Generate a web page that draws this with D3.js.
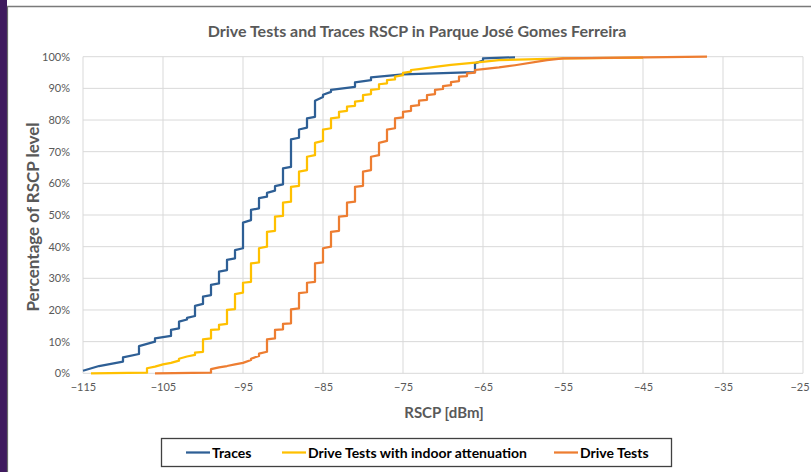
<!DOCTYPE html>
<html>
<head>
<meta charset="utf-8">
<script src="https://cdn.jsdelivr.net/npm/d3@7"></script>
<style>
  html, body { margin: 0; padding: 0; background: #ffffff; }
  svg { display: block; font-family: Lato, "Open Sans", sans-serif; }
</style>
</head>
<body>
<svg id="chart" width="811" height="472"></svg>
<script>
// Cumulative share of samples (%) at or below each RSCP level (dBm)
const tracesX = [-115, -113, -111, -110, -110, -108, -108, -106, -106, -104, -104, -103, -103, -102, -102, -101, -101,
  -100, -100, -99, -99, -98, -98, -97, -97, -96, -96, -95, -95, -94, -94, -93, -93, -92, -92, -91, -91, -90, -90,
  -89, -89, -88, -88, -87, -87, -86, -86, -85, -85, -84, -84, -81, -81, -79, -79, -75, -66, -66, -65, -65, -61];
const tracesY = [0.8, 2.3, 3.2, 3.7, 5.0, 6.1, 8.6, 10.0, 11.0, 11.8, 13.7, 14.2, 16.3, 17.0, 17.5, 18.1, 21.3,
  21.9, 24.2, 24.7, 27.9, 28.4, 32.1, 32.6, 35.8, 36.3, 38.9, 39.5, 47.6, 48.4, 51.6, 52.1, 55.3, 55.8, 57.0, 57.7, 59.1, 59.7, 64.7,
  65.2, 73.9, 74.4, 77.0, 77.6, 80.5, 81.0, 86.1, 87.3, 88.0, 88.9, 89.5, 90.5, 91.9, 92.6, 93.5, 94.4, 95.1, 97.9, 98.8, 99.5, 99.8];

const indoorX = [-114, -107, -107, -106, -105, -104, -103, -103, -102, -101, -101, -100, -100, -99, -99, -98, -98,
  -97, -97, -96, -96, -95, -95, -94, -94, -93, -93, -92, -92, -91, -91, -90, -90, -89, -89, -88, -88, -87, -87,
  -86, -86, -85, -85, -84, -84, -83, -83, -82, -82, -81, -81, -80, -80, -79, -79, -78, -78, -77, -77, -76, -76,
  -75, -75, -74, -74, -73, -71, -69, -66, -63, -57, -55, -45];
const indoorY = [0.0, 0.2, 1.6, 2.1, 2.8, 3.3, 4.0, 4.6, 5.3, 5.8, 6.5, 6.8, 10.7, 11.0, 13.7, 13.9, 15.3,
  15.6, 20.0, 20.3, 25.0, 25.5, 28.6, 28.9, 34.7, 35.0, 39.5, 40.0, 44.7, 45.0, 49.5, 49.7, 53.9, 54.2, 58.9, 59.2, 63.7, 64.2, 68.4,
  68.9, 72.8, 73.4, 77.0, 77.4, 80.5, 80.8, 82.6, 82.9, 84.2, 84.5, 85.8, 86.1, 87.9, 88.2, 89.5, 89.8, 91.3, 91.6, 92.6, 92.8, 93.7,
  94.2, 94.9, 95.3, 95.8, 96.1, 96.8, 97.4, 98.1, 98.9, 99.3, 99.5, 99.7];

const driveX = [-106, -99, -99, -98, -97, -96, -95, -94, -94, -93, -93, -92, -92, -91, -91, -90, -90,
  -89, -89, -88, -88, -87, -87, -86, -86, -85, -85, -84, -84, -83, -83, -82, -82, -81, -81, -80, -80, -79, -79,
  -78, -78, -77, -77, -76, -76, -75, -75, -74, -74, -73, -73, -72, -72, -71, -71, -70, -70, -69, -69, -68, -68,
  -67, -67, -66, -66, -65, -63, -61, -57, -55, -37];
const driveY = [0.0, 0.2, 1.3, 1.9, 2.3, 2.8, 3.3, 4.2, 4.6, 5.5, 6.2, 6.8, 10.7, 11.0, 13.7, 13.9, 15.6,
  15.8, 20.2, 20.5, 25.3, 25.6, 28.6, 28.9, 34.7, 35.0, 39.5, 40.0, 44.7, 45.0, 49.5, 49.7, 53.9, 54.2, 58.9, 59.2, 63.7, 64.2, 68.4,
  68.9, 72.8, 73.4, 77.0, 77.4, 80.5, 80.8, 82.6, 82.9, 84.4, 84.7, 86.1, 86.4, 87.9, 88.2, 89.5, 89.8, 90.7, 91.0, 92.0, 92.3, 93.7,
  93.9, 94.7, 95.0, 95.8, 96.1, 96.6, 97.3, 98.9, 99.5, 100.0];

const seriesNames = ["Traces", "Drive Tests with indoor attenuation", "Drive Tests"];
const seriesColors = ["#2e5f95", "#ffc000", "#ed7d31"];
const xTicks = [-115, -105, -95, -85, -75, -65, -55, -45, -35, -25];
const yTicks = [0, 10, 20, 30, 40, 50, 60, 70, 80, 90, 100];

const chartTitle = "Drive Tests and Traces RSCP in Parque José Gomes Ferreira";
const xTitle = "RSCP [dBm]";
const yTitle = "Percentage of RSCP level";

const series = [
  { name: seriesNames[0], color: seriesColors[0], pts: d3.zip(tracesX, tracesY) },
  { name: seriesNames[1], color: seriesColors[1], pts: d3.zip(indoorX, indoorY) },
  { name: seriesNames[2], color: seriesColors[2], pts: d3.zip(driveX, driveY) }
];

const svg = d3.select("#chart");
const W = 811, H = 472;
const plot = { left: 83, right: 803, top: 56.7, bottom: 373.3 };

svg.append("rect").attr("width", W).attr("height", H).attr("fill", "#ffffff");

// Window frame: purple strip on the left, thin grey edges
svg.append("rect").attr("x", 0).attr("y", 0).attr("width", 7).attr("height", H).attr("fill", "#3f1a5e");
svg.append("line").attr("x1", 7.5).attr("x2", 7.5).attr("y1", 6).attr("y2", H)
  .attr("stroke", "#6b6b6b").attr("stroke-width", 1.2);
svg.append("line").attr("x1", 7).attr("x2", W).attr("y1", 6.5).attr("y2", 6.5)
  .attr("stroke", "#7a7a7a").attr("stroke-width", 1.6);

const x = d3.scaleLinear().domain([-115, -25]).range([plot.left, plot.right]);
const y = d3.scaleLinear().domain([0, 100]).range([plot.bottom, plot.top]);

// Gridlines
const grid = svg.append("g").attr("stroke", "#d9d9d9").attr("stroke-width", 1);
grid.selectAll("line.v").data(xTicks).join("line")
  .attr("x1", d => x(d)).attr("x2", d => x(d))
  .attr("y1", plot.top).attr("y2", plot.bottom);
grid.selectAll("line.h").data(yTicks).join("line")
  .attr("x1", plot.left).attr("x2", plot.right)
  .attr("y1", d => y(d)).attr("y2", d => y(d));

// Axes (labels only, grid supplies the lines)
const xAxis = svg.append("g").attr("transform", `translate(0,${plot.bottom + 7})`)
  .call(d3.axisBottom(x).tickValues(xTicks).tickSize(0).tickFormat(d3.format("d")));
xAxis.select(".domain").remove();
xAxis.selectAll("text").attr("fill", "#595959").attr("font-size", 11).attr("font-family", "Lato, sans-serif");
// keep the last label inside the window edge
xAxis.selectAll(".tick").filter(d => d === xTicks[xTicks.length - 1]).select("text")
  .attr("text-anchor", "end").attr("dx", "0.55em");

const yAxis = svg.append("g").attr("transform", `translate(${plot.left - 10},0)`)
  .call(d3.axisLeft(y).tickValues(yTicks).tickSize(0).tickFormat(d => d + "%"));
yAxis.select(".domain").remove();
yAxis.selectAll("text").attr("fill", "#595959").attr("font-size", 11).attr("font-family", "Lato, sans-serif");

// Series lines
const line = d3.line().x(d => x(d[0])).y(d => y(d[1]));
svg.append("g").selectAll("path").data(series).join("path")
  .attr("d", d => line(d.pts))
  .attr("fill", "none")
  .attr("stroke", d => d.color)
  .attr("stroke-width", 2.25)
  .attr("stroke-linejoin", "round");

// Titles
svg.append("text").attr("x", 417).attr("y", 37).attr("text-anchor", "middle")
  .attr("font-size", 16).attr("font-weight", 700).attr("fill", "#595959").text(chartTitle);
svg.append("text").attr("x", 444).attr("y", 418).attr("text-anchor", "middle")
  .attr("font-size", 15).attr("font-weight", 700).attr("fill", "#595959").text(xTitle);
svg.append("text").attr("transform", `translate(39,${(plot.top + plot.bottom) / 2 + 2}) rotate(-90)`)
  .attr("text-anchor", "middle").attr("font-size", 17).attr("font-weight", 700).attr("fill", "#595959").text(yTitle);

// Legend
const legend = svg.append("g");
legend.append("rect").attr("x", 161.5).attr("y", 438.5).attr("width", 510).attr("height", 28)
  .attr("fill", "#ffffff").attr("stroke", "#404040").attr("stroke-width", 1.3);
const legendX = [186, 282, 554];
const items = legend.selectAll("g.item").data(series).join("g")
  .attr("transform", (d, i) => `translate(${legendX[i]},452.5)`);
items.append("line").attr("x1", 0).attr("x2", 24).attr("y1", 0).attr("y2", 0)
  .attr("stroke", d => d.color).attr("stroke-width", 2.25);
items.append("text").attr("x", 26).attr("y", 5).attr("font-size", 14).attr("font-weight", 700)
  .attr("fill", "#000000").text(d => d.name);
</script>
</body>
</html>
